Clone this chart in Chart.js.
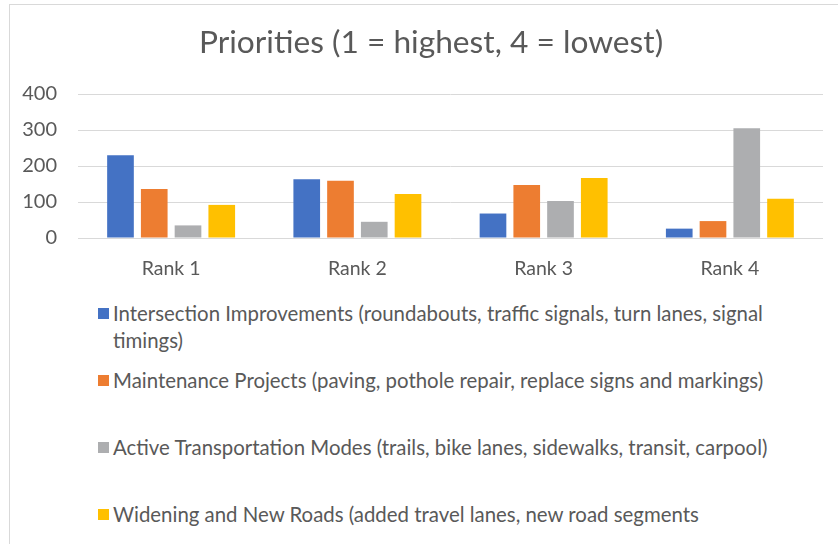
<!DOCTYPE html>
<html>
<head>
<meta charset="utf-8">
<title>Priorities</title>
<script src="https://cdn.jsdelivr.net/npm/chart.js"></script>
<style>
  html, body { margin: 0; padding: 0; background: #fff; overflow: hidden; width: 838px; height: 544px; }
  #frame { position: absolute; left: 9px; top: 4px; width: 860px; height: 600px; border: 1px solid #d9d9d9; box-sizing: border-box; }
  #wrap { position: absolute; left: 0; top: 0; width: 862px; height: 290px; }
  #legend { position: absolute; left: 98px; top: 300px; margin: 0; padding: 0; list-style: none;
            font-family: Lato, sans-serif; font-size: 20.4px; color: #595959; }
  #legend li { position: absolute; left: 0; display: flex; align-items: flex-start; width: 720px; }
  #legend .box { width: 11px; height: 11px; margin-top: 8px; margin-right: 4px; flex: none; }
  #legend .txt { line-height: 27px; width: 680px; }
</style>
</head>
<body>
<div id="frame"></div>
<div id="wrap"><canvas id="chart"></canvas></div>
<ul id="legend"></ul>
<script>
const categories = ['Rank 1', 'Rank 2', 'Rank 3', 'Rank 4'];
const seriesNames = [
    'Intersection Improvements (roundabouts, traffic signals, turn lanes, signal timings)',
    'Maintenance Projects (paving, pothole repair, replace signs and markings)',
    'Active Transportation Modes (trails, bike lanes, sidewalks, transit, carpool)',
    'Widening and New Roads (added travel lanes, new road segments'
];
const intersection = [230, 163, 68, 26];
const maintenance = [136, 159, 147, 47];
const active = [35, 45, 103, 305];
const widening = [92, 122, 167, 109];
const yMin = 0, yMax = 400, yStep = 100;

const colores = ['#4472c4', '#ed7d31', '#adaeb0', '#ffc000'];
const series = [intersection, maintenance, active, widening];

Chart.defaults.font.family = 'Lato, sans-serif';
Chart.defaults.color = '#595959';

// leyenda en HTML, una fila por serie
const htmlLegend = {
    id: 'htmlLegend',
    afterUpdate(chart) {
        const ul = document.getElementById('legend');
        ul.innerHTML = '';
        chart.data.datasets.forEach((ds, i) => {
            const li = document.createElement('li');
            li.style.top = (i * 67) + 'px';
            li.innerHTML = `<span class="box" style="background:${ds.backgroundColor}"></span><span class="txt">${ds.label}</span>`;
            ul.appendChild(li);
        });
    }
};

const ctx = document.getElementById('chart').getContext('2d');
const chart = new Chart(ctx, {
    type: 'bar',
    data: {
        labels: categories,
        datasets: series.map((values, i) => ({
            label: seriesNames[i],
            data: values,
            backgroundColor: colores[i],
            categoryPercentage: 0.725,
            barPercentage: 0.79
        }))
    },
    options: {
        responsive: true,
        maintainAspectRatio: false,
        animation: false,
        layout: { padding: { left: 9, right: 9, top: 0, bottom: 0 } },
        plugins: {
            legend: { display: false },
            tooltip: { enabled: false },
            title: {
                display: true,
                text: 'Priorities (1 = highest, 4 = lowest)',
                color: '#595959',
                font: { size: 31.7, weight: 'normal' },
                padding: { top: 24, bottom: 32 }
            }
        },
        scales: {
            x: {
                grid: { display: false },
                border: { display: false },
                ticks: { font: { size: 19.5 }, padding: 11 },
                afterFit(scale) { scale.height = 52; }
            },
            y: {
                min: yMin,
                max: yMax,
                grid: { color: '#d9d9d9', drawTicks: false },
                border: { display: false },
                ticks: { stepSize: yStep, font: { size: 20 }, padding: 21 },
                afterFit(scale) { scale.width = 69; }
            },
            // eje vacío a la derecha, solo deja margen para el área de barras
            margenDerecho: {
                type: 'linear',
                position: 'right',
                grid: { display: false },
                border: { display: false },
                ticks: { display: false },
                afterFit(scale) { scale.width = 30; }
            }
        }
    },
    plugins: [htmlLegend]
});
</script>
</body>
</html>
